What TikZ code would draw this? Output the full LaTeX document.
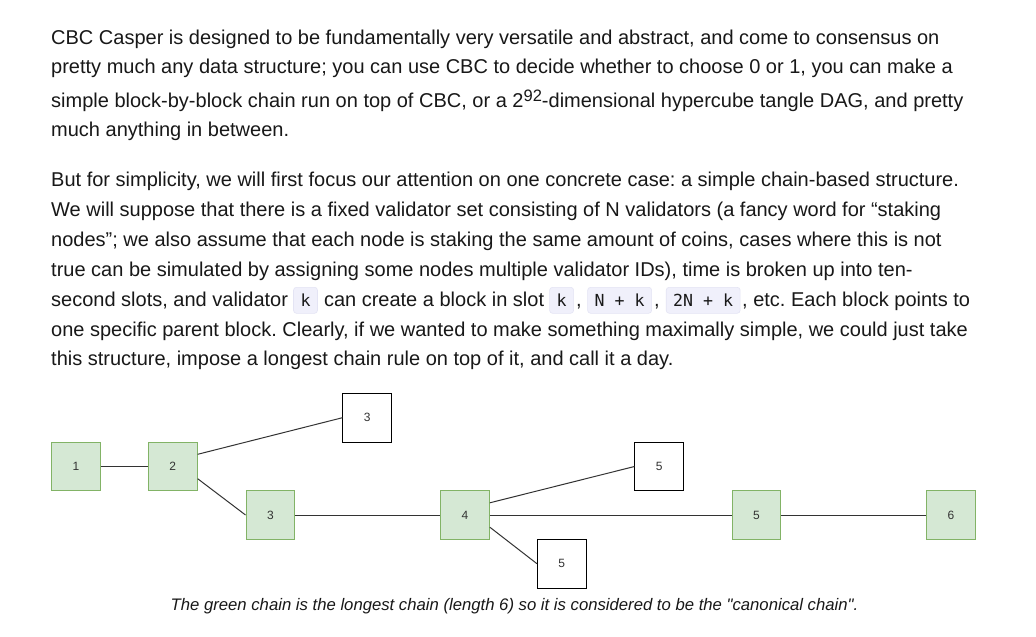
\documentclass[tikz,border=0pt]{standalone}
\usepackage{fontspec}
\newfontfamily\plainfont{Liberation Sans}
\newfontfamily\codefont{DejaVu Sans Mono}
\usepackage{xcolor}
\usetikzlibrary{positioning}
\definecolor{bodytext}{RGB}{24,24,24}
\definecolor{codebg}{RGB}{240,240,251}
\definecolor{codeframe}{RGB}{228,228,244}
\definecolor{chainfill}{HTML}{D5E8D4}
\definecolor{chainline}{HTML}{82B366}
\definecolor{edgegray}{HTML}{333333}
\frenchspacing

\begin{document}
\begin{tikzpicture}[
    x=1pt, y=-1pt,
    txt/.style={inner sep=0pt, anchor=base west, text=bodytext, font=\fontsize{20}{29}\plainfont},
    code/.style={rectangle, rounded corners=3pt, fill=codebg, draw=codeframe, line width=0.6pt, inner xsep=7pt, inner ysep=5pt, text height=13.7pt, text depth=2.3pt, text=bodytext, font=\fontsize{16.6}{18}\codefont},
    block/.style={rectangle, minimum width=48.7pt, minimum height=48.7pt, inner sep=0pt, line width=1pt, text=edgegray, font=\fontsize{12}{14}\plainfont},
    canon/.style={block, fill=chainfill, draw=chainline},
    orphan/.style={block, fill=white, draw=black},
    edge/.style={draw=edgegray, line width=1pt},
    caption/.style={inner sep=0pt, anchor=base, text=bodytext, font=\fontsize{16.7}{18}\plainfont\itshape},
]
    \useasboundingbox[fill=white] (0,0) rectangle (1036,637);

    \node[txt] (p1a) at (51,44) {CBC Casper is designed to be fundamentally very versatile and abstract, and come to consensus on};
    \node[txt] (p1b) at (51,73.5) {pretty much any data structure; you can use CBC to decide whether to choose 0 or 1, you can make a};
    \node[txt] (p1c) at (51,107.5) {simple block-by-block chain run on top of CBC, or a 2\raisebox{6.5pt}{\fontsize{16.5}{16}\plainfont 92}-dimensional hypercube tangle DAG, and pretty};
    \node[txt] (p1d) at (51,136.5) {much anything in between.};

    \node[txt] (p2a) at (51,186) {But for simplicity, we will first focus our attention on one concrete case: a simple chain-based structure.};
    \node[txt] (p2b) at (51,216) {We will suppose that there is a fixed validator set consisting of N validators (a fancy word for “staking};
    \node[txt] (p2c) at (51,246) {nodes”; we also assume that each node is staking the same amount of coins, cases where this is not};
    \node[txt] (p2d) at (51,276) {true can be simulated by assigning some nodes multiple validator IDs), time is broken up into ten-};
    \node[txt] (p2e) at (51,306) {second slots, and validator};
    \node[code, base right=5pt of p2e] (k1) {k};
    \node[txt, base right=6pt of k1] (p2f) {can create a block in slot};
    \node[code, base right=5pt of p2f] (k2) {k};
    \node[txt, base right=2pt of k2] (p2g) {,};
    \node[code, base right=5.5pt of p2g] (k3) {N + k};
    \node[txt, base right=2pt of k3] (p2h) {,};
    \node[code, base right=6pt of p2h] (k4) {2N + k};
    \node[txt, base right=1.5pt of k4] (p2i) {, etc. Each block points to};
    \node[txt] (p2j) at (51,336) {one specific parent block. Clearly, if we wanted to make something maximally simple, we could just take};
    \node[txt] (p2k) at (51,365.5) {this structure, impose a longest chain rule on top of it, and call it a day.};

    \node[canon] (b1) at (76,466.5) {1};
    \node[canon] (b2) at (172.8,466.5) {2};
    \node[orphan] (b3u) at (367.3,417.7) {3};
    \node[canon] (b3) at (270.4,515) {3};
    \node[canon] (b4) at (465,515) {4};
    \node[orphan] (b5u) at (659.3,466.5) {5};
    \node[orphan] (b5d) at (561.8,563.7) {5};
    \node[canon] (b5) at (756.5,515) {5};
    \node[canon] (b6) at (951,515) {6};

    \draw[edge] (b1) -- (b2);
    \draw[edge] ([yshift=12.2pt]b2.east) -- (b3u.west);
    \draw[edge] ([yshift=-12.2pt]b2.east) -- (b3.west);
    \draw[edge] (b3) -- (b4);
    \draw[edge] ([yshift=12.2pt]b4.east) -- (b5u.west);
    \draw[edge] ([yshift=-12.2pt]b4.east) -- (b5d.west);
    \draw[edge] (b4) -- (b5);
    \draw[edge] (b5) -- (b6);

    \node[caption] (cap) at (514.5,610.5) {The green chain is the longest chain (length 6) so it is considered to be the "canonical chain".};
\end{tikzpicture}
\end{document}
